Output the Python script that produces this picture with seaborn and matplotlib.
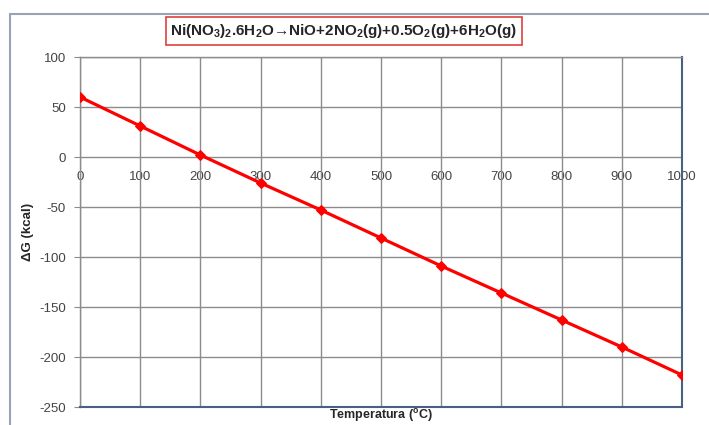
import matplotlib
matplotlib.use("Agg")
import matplotlib.pyplot as plt
import seaborn as sns
import pandas as pd
from matplotlib.lines import Line2D

temperatura = [0, 100, 200, 300, 400, 500, 600, 700, 800, 900, 1000]
delta_g = [60, 31, 2, -26, -53, -81, -109, -136, -163, -190, -218]
x_ticks = [0, 100, 200, 300, 400, 500, 600, 700, 800, 900, 1000]
y_ticks = [100, 50, 0, -50, -100, -150, -200, -250]

df = pd.DataFrame({"T": temperatura, "G": delta_g})

sns.set_style("white")
plt.rcParams["font.family"] = ["Liberation Sans", "DejaVu Sans"]
plt.rcParams["mathtext.fontset"] = "custom"
plt.rcParams["mathtext.rm"] = "Liberation Sans:bold"
plt.rcParams["mathtext.default"] = "rm"
plt.rcParams["axes.unicode_minus"] = False

fig = plt.figure(figsize=(7.09, 4.25), dpi=100)
ax = fig.add_axes([80/709, 1-407/425, (682-80)/709, (407-57)/425])

sns.lineplot(data=df, x="T", y="G", ax=ax, color="#ff0000", linewidth=2.3,
             marker="D", markersize=5, markeredgecolor="#ff0000", zorder=5)

ax.set_xlim(0, 1000)
ax.set_ylim(-250, 100)
ax.set_yticks(y_ticks)
ax.set_xticks(x_ticks)
ax.grid(True, color="#8c8c8c", linewidth=1)
ax.set_axisbelow(True)
ax.tick_params(axis="x", labelbottom=False, length=0)
ax.tick_params(axis="y", length=4, color="#8c8c8c", labelsize=9.5,
               labelcolor="#444444", pad=6, left=True)
ax.set_xlabel("")
ax.set_ylabel("")

for s in ["left", "top"]:
    ax.spines[s].set_color("#8c8c8c")
    ax.spines[s].set_linewidth(1)
for s in ["right", "bottom"]:
    ax.spines[s].set_color("#4a5f85")
    ax.spines[s].set_linewidth(1.5)

sec = ax.secondary_xaxis(250/350)
sec.set_xticks(x_ticks)
sec.xaxis.set_ticks_position("bottom")
sec.tick_params(axis="x", which="both", length=0, labelsize=9.5, labelcolor="#444444",
                pad=10, labelbottom=True, labeltop=False, bottom=True, top=False)
for s in sec.spines.values():
    s.set_visible(False)

fig.text(381/709, 1-415/425, r"Temperatura ($^{\mathrm{o}}$C)", ha="center", va="center",
         fontsize=9, fontweight="bold")
fig.text(28/709, 1-232/425, "ΔG (kcal)", ha="center", va="center", rotation=90,
         fontsize=9.5, fontweight="bold")

fig.text(344/709, 1-31/425,
         r"Ni(NO$_3$)$_2$.6H$_2$O→NiO+2NO$_2$(g)+0.5O$_2$(g)+6H$_2$O(g)",
         ha="center", va="center", fontsize=11, fontweight="bold",
         bbox=dict(boxstyle="square,pad=0.3", facecolor="white", edgecolor="#e04040", linewidth=1.2))

# outer chart frame (left and top edges visible)
fig.add_artist(Line2D([10/709, 10/709], [0, 1-14/425], transform=fig.transFigure,
                      color="#9aa3b5", linewidth=1.5))
fig.add_artist(Line2D([10/709, 1], [1-14/425, 1-14/425], transform=fig.transFigure,
                      color="#9aa3b5", linewidth=1.5))

fig.savefig("out.png", dpi=100)
